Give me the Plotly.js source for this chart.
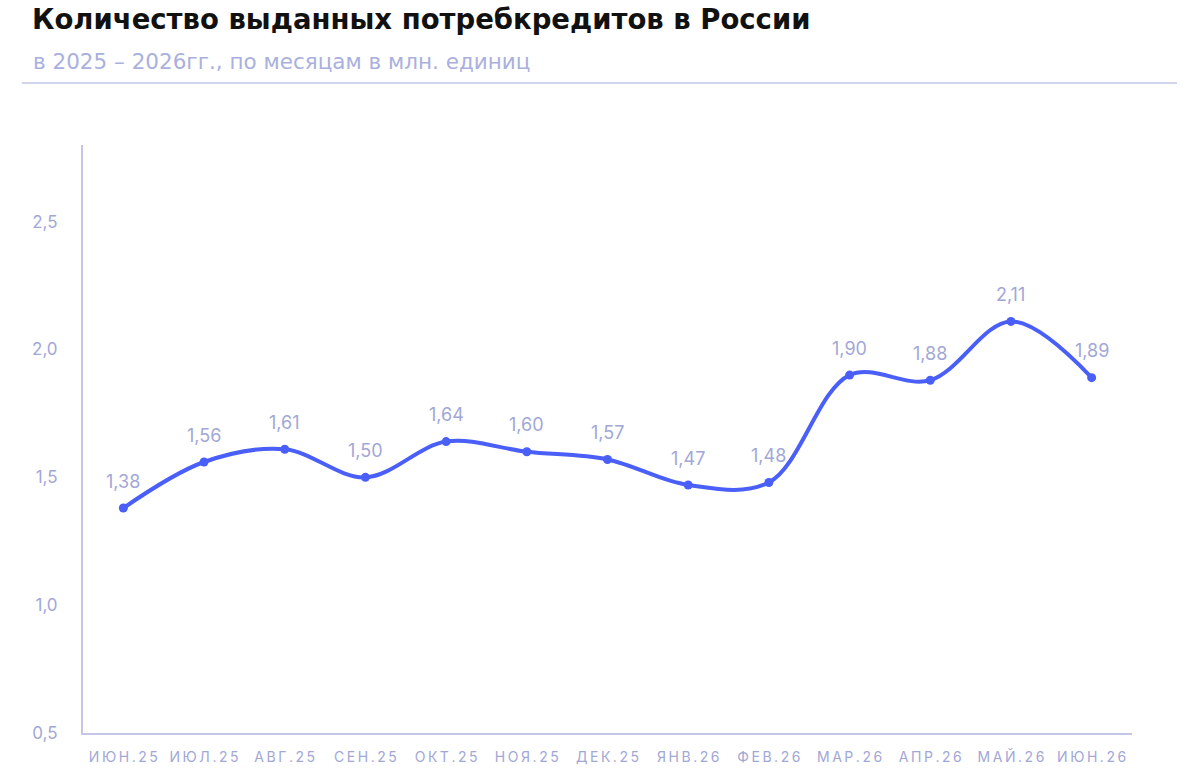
<!DOCTYPE html>
<html>
<head>
<meta charset="utf-8">
<script src="https://cdn.plot.ly/plotly-3.0.1.min.js"></script>
<style>html,body{margin:0;padding:0;background:#fff;}#chart{width:1200px;height:780px;}</style>
</head>
<body>
<div id="chart"></div>
<script>
const months = ["ИЮН.25","ИЮЛ.25","АВГ.25","СЕН.25","ОКТ.25","НОЯ.25","ДЕК.25","ЯНВ.26","ФЕВ.26","МАР.26","АПР.26","МАЙ.26","ИЮН.26"];
const loans = [1.38,1.56,1.61,1.50,1.64,1.60,1.57,1.47,1.48,1.90,1.88,2.11,1.89];
const yTicks = [0.5,1.0,1.5,2.0,2.5];
const yTickLabels = ["0,5","1,0","1,5","2,0","2,5"];

const spaced = months.map(m => m.split('').join('\u2009'));
const labelColor = '#a2a7d6';
const fontFam = 'Inter, "Noto Sans", sans-serif';
const wideFam = '"DejaVu Sans", Inter, sans-serif';

const trace = {
  x: months.map((_, i) => i),
  y: loans,
  type: 'scatter',
  mode: 'lines+markers',
  line: {color: '#4a5ff7', width: 4, shape: 'spline', smoothing: 1},
  marker: {color: '#4a5ff7', size: 9},
  hoverinfo: 'skip'
};

const annotations = loans.map((v, i) => ({
  x: i, y: v, xref: 'x', yref: 'y',
  text: v.toFixed(2).replace('.', ','),
  showarrow: false, yshift: 27,
  font: {family: fontFam, size: 18, color: labelColor}
}));

annotations.push({
  xref: 'paper', yref: 'paper', x: (31 - 83) / 1049, y: (733 - 62) / 588,
  xanchor: 'left', yanchor: 'middle', showarrow: false,
  text: 'в 2025 – 2026гг., по месяцам в млн. единиц',
  font: {family: wideFam, size: 21.5, color: '#aab0de'}
});

const layout = {
  width: 1200, height: 780,
  margin: {l: 83, r: 68, t: 145, b: 47},
  paper_bgcolor: '#fff', plot_bgcolor: '#fff',
  showlegend: false,
  title: {
    text: '<b>Количество выданных потребкредитов в России</b>',
    xref: 'container', yref: 'container', x: 32 / 1200, y: 1 - 19 / 780,
    xanchor: 'left', yanchor: 'middle',
    font: {family: wideFam, size: 27.5, color: '#111'}
  },
  xaxis: {
    range: [-0.5, months.length - 0.5],
    tickmode: 'array', tickvals: months.map((_, i) => i), ticktext: spaced,
    showgrid: false, zeroline: false,
    showline: true, linecolor: '#c3c6e6', linewidth: 2,
    ticks: '', ticklabelstandoff: 10,
    tickfont: {family: fontFam, size: 14, color: labelColor},
    fixedrange: true
  },
  yaxis: {
    range: [0.5, 2.8],
    tickmode: 'array', tickvals: yTicks, ticktext: yTickLabels,
    showgrid: false, zeroline: false,
    showline: true, linecolor: '#c3c6e6', linewidth: 2,
    ticks: '', ticklabelstandoff: 20,
    tickfont: {family: fontFam, size: 17, color: labelColor},
    fixedrange: true
  },
  shapes: [{
    type: 'line', xref: 'paper', yref: 'paper',
    x0: (22 - 83) / 1049, x1: (1177 - 83) / 1049,
    y0: (733 - 83) / 588, y1: (733 - 83) / 588,
    line: {color: '#c3c6e6', width: 1.5}
  }],
  annotations: annotations
};

Plotly.newPlot('chart', [trace], layout, {displayModeBar: false, staticPlot: true});
</script>
</body>
</html>
